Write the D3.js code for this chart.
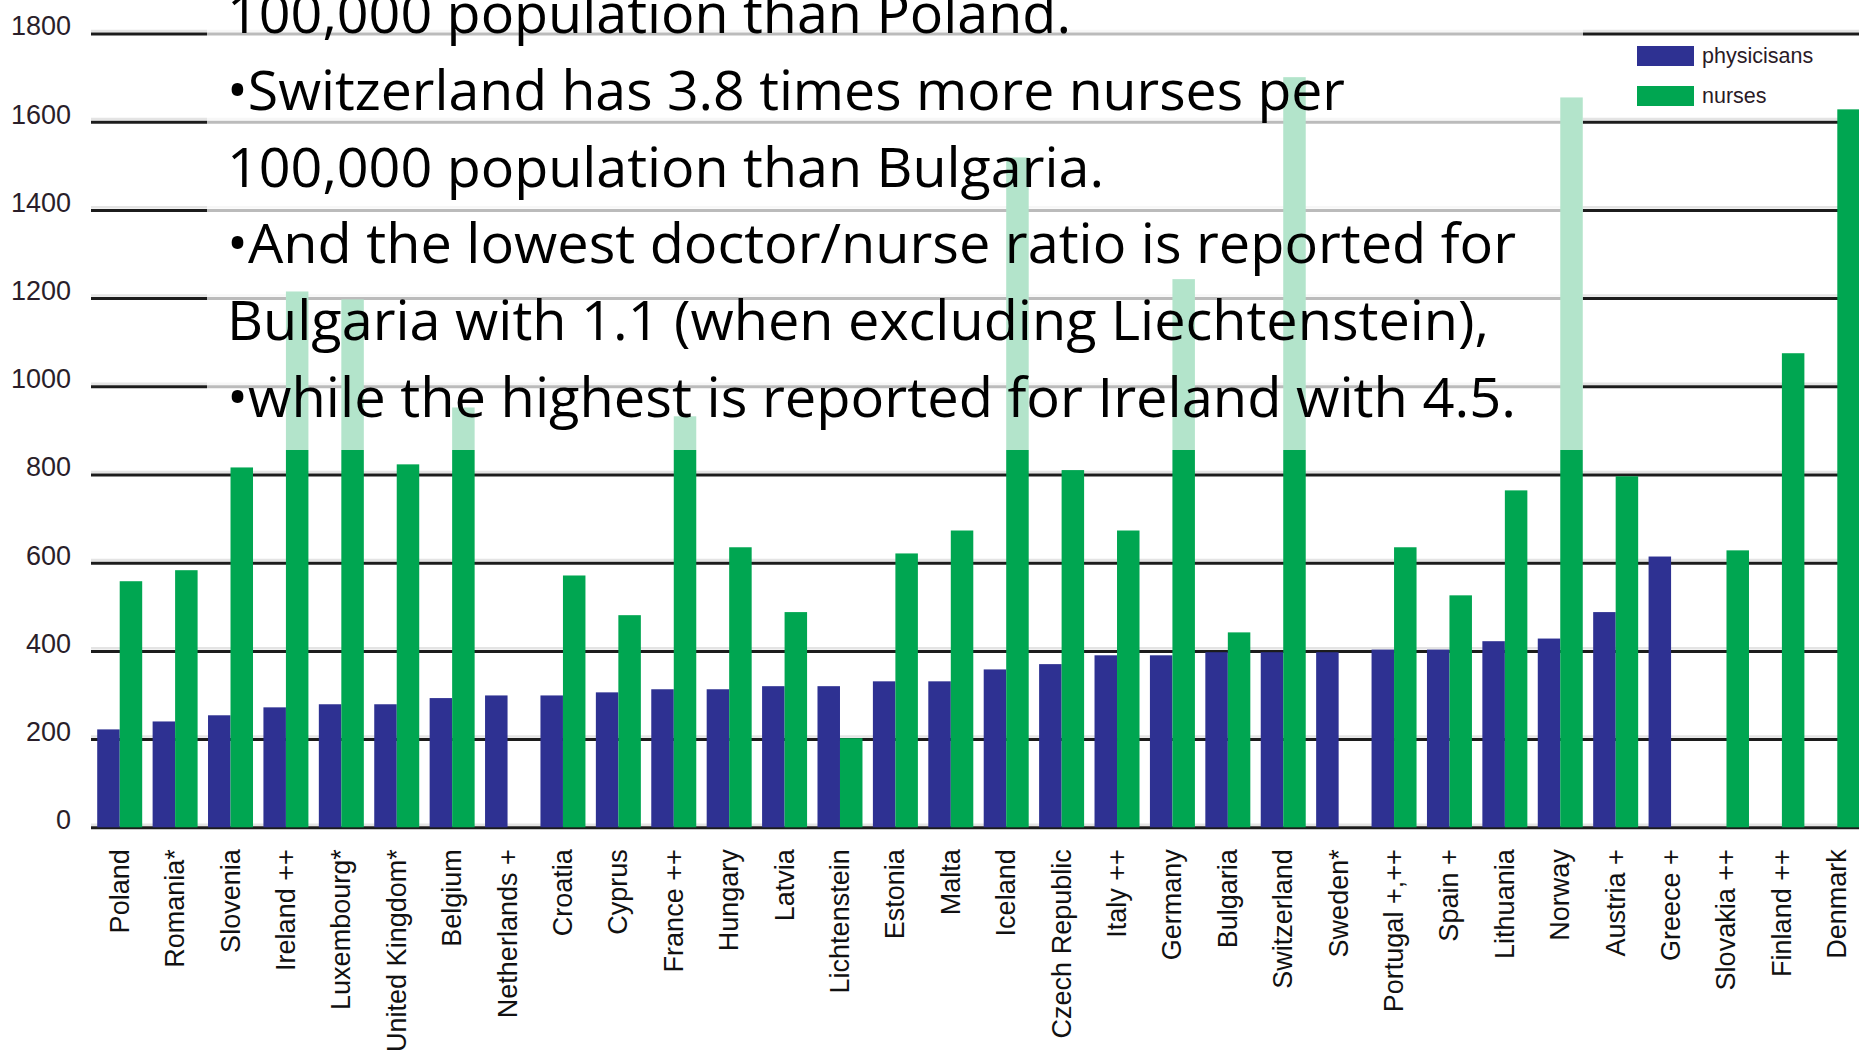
<!DOCTYPE html>
<html>
<head>
<meta charset="utf-8">
<script src="https://cdn.jsdelivr.net/npm/d3@7"></script>
<style>
  body { margin: 0; background: white; }
  svg { display: block; }
</style>
</head>
<body>
<main></main>
<script>
const countries = ['Poland', 'Romania*', 'Slovenia', 'Ireland ++', 'Luxembourg*', 'United Kingdom*', 'Belgium',
  'Netherlands +', 'Croatia', 'Cyprus', 'France ++', 'Hungary', 'Latvia', 'Lichtenstein', 'Estonia', 'Malta',
  'Iceland', 'Czech Republic', 'Italy ++', 'Germany', 'Bulgaria', 'Switzerland', 'Sweden*', 'Portugal +,++',
  'Spain +', 'Lithuania', 'Norway', 'Austria +', 'Greece +', 'Slovakia ++', 'Finland ++', 'Denmark'];

const physicians = [222, 240, 254, 272, 279, 279, 293, 299, 299, 306, 313, 313, 320, 320, 331, 331,
  358, 370, 390, 390, 397, 397, 397, 403, 403, 422, 428, 488, 614, null, null, null];

const nurses = [558, 583, 816, 1215, 1197, 823, 952, null, 571, 481, 932, 635, 488, 202, 621, 673,
  1519, 810, 673, 1243, 442, 1701, null, 635, 526, 764, 1655, 796, null, 628, 1075, 1628];

const seriesNames = ['physicians', 'nurses'];
const legendLabels = ['physicisans', 'nurses'];
const yTicks = [0, 200, 400, 600, 800, 1000, 1200, 1400, 1600, 1800];

const noteLines = [
  '100,000 population than Poland.',
  '\u2022Switzerland has 3.8 times more nurses per',
  '100,000 population than Bulgaria.',
  '\u2022And the lowest doctor/nurse ratio is reported for',
  'Bulgaria with 1.1 (when excluding Liechtenstein),',
  '\u2022while the highest is reported for Ireland with 4.5.'
];
// rendered widths of each line in the original slide
const noteWidths = [844, 1118, 877, 1289, 1262, 1289];

const width = 1859;
const height = 1057;
const gridLeft = 91;
const blue = '#2e3192';
const green = '#00a651';

const x = d3.scaleBand()
  .domain(countries)
  .range([92, 1865])
  .paddingInner(0.188)
  .paddingOuter(0.094);

const xSub = d3.scaleBand()
  .domain(seriesNames)
  .range([0, x.bandwidth()]);

const y = d3.scaleLinear()
  .domain([0, 1800])
  .range([827.3, 33.5]);

const color = d3.scaleOrdinal()
  .domain(seriesNames)
  .range([blue, green]);

const svg = d3.select('main')
  .append('svg')
  .attr('width', width)
  .attr('height', height)
  .style('font-family', '"Liberation Sans", Arial, sans-serif');

// light shadow above each gridline (scanned look)
svg.append('g')
  .selectAll('line')
  .data(yTicks)
  .join('line')
  .attr('x1', gridLeft)
  .attr('x2', width)
  .attr('y1', d => y(d) - 2.6)
  .attr('y2', d => y(d) - 2.6)
  .style('stroke', '#e4e4e4')
  .style('stroke-width', 2.5)

// y-axis with gridlines
const yAxis = d3.axisLeft(y)
  .tickValues(yTicks)
  .tickFormat(d3.format('d'))
  .tickSize(-(width - gridLeft))
  .tickPadding(20);

const yG = svg.append('g')
  .attr('id', 'y-axis')
  .attr('transform', `translate(${gridLeft}, 0)`)
  .call(yAxis)

yG.select('.domain').remove()
yG.selectAll('.tick line')
  .style('stroke', '#1c1c1c')
  .style('stroke-width', 3)
yG.selectAll('.tick text')
  .attr('dy', '0.05em')
  .style('font-size', '27px')
  .style('font-family', '"Liberation Sans", Arial, sans-serif')
  .style('fill', '#2a1e2a')

// bars
const groups = svg.append('g')
  .selectAll('g')
  .data(countries)
  .join('g')
  .attr('transform', d => `translate(${x(d)}, 0)`)

groups.selectAll('rect')
  .data((d, i) => seriesNames.map(s => ({ key: s, value: s === 'physicians' ? physicians[i] : nurses[i] })))
  .join('rect')
  .filter(d => d.value !== null)
  .attr('x', d => xSub(d.key))
  .attr('y', d => y(d.value))
  .attr('width', xSub.bandwidth())
  .attr('height', d => y(0) - y(d.value))
  .style('fill', d => color(d.key))

// x-axis labels
const xAxis = d3.axisBottom(x).tickSize(0);
const xG = svg.append('g')
  .attr('id', 'x-axis')
  .attr('transform', `translate(0, ${y(0)})`)
  .call(xAxis)

xG.select('.domain').remove()
xG.selectAll('.tick text')
  .attr('x', 0)
  .attr('y', 0)
  .attr('dy', 0)
  .attr('text-anchor', 'end')
  .attr('transform', 'translate(9, 22) rotate(-90)')
  .style('font-size', '27px')
  .style('font-family', '"Liberation Sans", Arial, sans-serif')
  .style('fill', '#111')

// semi-transparent text box from the slide
svg.append('rect')
  .attr('x', 207)
  .attr('y', 0)
  .attr('width', 1583 - 207)
  .attr('height', 450)
  .style('fill', 'white')
  .style('opacity', 0.7)

svg.append('g')
  .selectAll('text')
  .data(noteLines)
  .join('text')
  .text(d => d)
  .attr('x', 227)
  .attr('y', (d, i) => 33 + i * 76.8)
  .attr('textLength', (d, i) => noteWidths[i])
  .attr('lengthAdjust', 'spacingAndGlyphs')
  .style('font-family', '"Open Sans", sans-serif')
  .style('font-size', '55px')
  .style('fill', '#000')

// legend
const legend = svg.append('g')
  .attr('id', 'legend')
  .selectAll('g')
  .data(seriesNames)
  .join('g')
  .attr('transform', (d, i) => `translate(1637, ${46 + i * 40})`)

legend.append('rect')
  .attr('width', 57)
  .attr('height', 20)
  .style('fill', d => color(d))

legend.append('text')
  .text((d, i) => legendLabels[i])
  .attr('x', 65)
  .attr('y', 17)
  .style('font-size', '21.5px')
  .style('fill', '#2a1a26')
</script>
</body>
</html>
